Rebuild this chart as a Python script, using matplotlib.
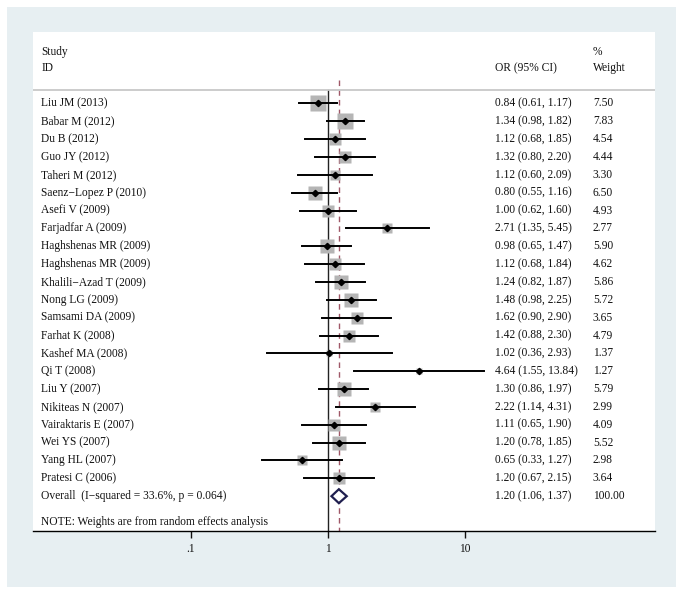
import matplotlib
matplotlib.use('Agg')
import matplotlib.pyplot as plt
from matplotlib.patches import Rectangle, Polygon
import numpy as np

plt.rcParams['font.family'] = ['Liberation Serif', 'DejaVu Serif']

# study data
studies = ['Liu JM (2013)', 'Babar M (2012)', 'Du B (2012)', 'Guo JY (2012)',
           'Taheri M (2012)', 'Saenz\u2212Lopez P (2010)', 'Asefi V (2009)',
           'Farjadfar A (2009)', 'Haghshenas MR (2009)', 'Haghshenas MR (2009)',
           'Khalili\u2212Azad T (2009)', 'Nong LG (2009)', 'Samsami DA (2009)',
           'Farhat K (2008)', 'Kashef MA (2008)', 'Qi T (2008)', 'Liu Y (2007)',
           'Nikiteas N (2007)', 'Vairaktaris E (2007)', 'Wei YS (2007)',
           'Yang HL (2007)', 'Pratesi C (2006)']
odds = [0.84, 1.34, 1.12, 1.32, 1.12, 0.80, 1.00, 2.71, 0.98, 1.12, 1.24,
        1.48, 1.62, 1.42, 1.02, 4.64, 1.30, 2.22, 1.11, 1.20, 0.65, 1.20]
ci_lo = [0.61, 0.98, 0.68, 0.80, 0.60, 0.55, 0.62, 1.35, 0.65, 0.68, 0.82,
         0.98, 0.90, 0.88, 0.36, 1.55, 0.86, 1.14, 0.65, 0.78, 0.33, 0.67]
ci_hi = [1.17, 1.82, 1.85, 2.20, 2.09, 1.16, 1.60, 5.45, 1.47, 1.84, 1.87,
         2.25, 2.90, 2.30, 2.93, 13.84, 1.97, 4.31, 1.90, 1.85, 1.27, 2.15]
weights = [7.50, 7.83, 4.54, 4.44, 3.30, 6.50, 4.93, 2.77, 5.90, 4.62, 5.86,
           5.72, 3.65, 4.79, 1.37, 1.27, 5.79, 2.99, 4.09, 5.52, 2.98, 3.64]

overall_label = 'Overall  (I\u2212squared = 33.6%, p = 0.064)'
overall = 1.20
overall_lo = 1.06
overall_hi = 1.37
overall_w = 100.00

xticks = [0.1, 1, 10]
xticklabels = ['.1', '1', '10']

W, H = 683, 594
fig = plt.figure(figsize=(W / 100, H / 100), dpi=100)

# light grey-blue outer panel
fig.add_artist(Rectangle((7 / W, 7 / H), 669 / W, 580 / H, transform=fig.transFigure,
                         facecolor='#e7eff2', edgecolor='none', zorder=-1))

ax = fig.add_axes([33 / W, (H - 531) / H, 622 / W, 499 / H])
ax.set_facecolor('white')
ax.set_xscale('log')
ax.set_xlim(10 ** ((33 - 328) / 137), 10 ** ((655 - 328) / 137))
ax.set_ylim(24.95, -3.0)

fs = 8.3
tc = '#111111'
tx = ax.get_yaxis_transform()
x_lab, x_or, x_w = 0.0135, 0.743, 0.900

rows = np.arange(1, len(studies) + 1)

# reference lines
ax.plot([1, 1], [0.26, 24.95], color='#222222', lw=1.0, zorder=2)
ax.plot([overall, overall], [-0.3, 24.95], color='#a05868', lw=1.0,
        ls=(0, (4, 3)), zorder=2)

for r, s, o, lo, hi, w in zip(rows, studies, odds, ci_lo, ci_hi, weights):
    side = 5.8 * np.sqrt(w) * 0.72
    ax.plot(o, r, marker='s', ms=side, mfc='#b5b5b5', mec='none', zorder=3)
    ax.plot([lo, hi], [r, r], color='black', lw=1.4, zorder=4)
    ax.plot(o, r, marker='D', ms=3.2, color='black', zorder=5)
    ax.text(x_lab, r, s, transform=tx, fontsize=fs, va='center', color=tc)
    ax.text(x_or, r, f'{o:.2f} ({lo:.2f}, {hi:.2f})', transform=tx,
            fontsize=fs, va='center', color=tc)
    ax.text(x_w, r, f'{w:.2f}', transform=tx, fontsize=fs, va='center', color=tc)

# overall diamond
r_ov = len(studies) + 1
h = 0.39
ax.add_patch(Polygon([(overall_lo, r_ov), (overall, r_ov - h), (overall_hi, r_ov),
                      (overall, r_ov + h)], closed=True, facecolor='white',
                     edgecolor='#1f1f4f', lw=1.6, zorder=5))
ax.text(x_lab, r_ov, overall_label, transform=tx, fontsize=fs, va='center', color=tc)
ax.text(x_or, r_ov, f'{overall:.2f} ({overall_lo:.2f}, {overall_hi:.2f})',
        transform=tx, fontsize=fs, va='center', color=tc)
ax.text(x_w, r_ov, f'{overall_w:.2f}', transform=tx, fontsize=fs, va='center', color=tc)

# headers
ax.text(x_lab, -1.87, 'Study', transform=tx, fontsize=fs, va='center', color=tc)
ax.text(x_lab, -0.98, 'ID', transform=tx, fontsize=fs, va='center', color=tc)
ax.text(x_or, -0.98, 'OR (95% CI)', transform=tx, fontsize=fs, va='center', color=tc)
ax.text(x_w, -1.87, '%', transform=tx, fontsize=fs, va='center', color=tc)
ax.text(x_w, -0.98, 'Weight', transform=tx, fontsize=fs, va='center', color=tc)
ax.plot([0, 1], [0.26, 0.26], transform=tx, color='#c8c8c8', lw=1.3, zorder=2)

ax.text(x_lab, 24.44, 'NOTE: Weights are from random effects analysis',
        transform=tx, fontsize=fs, va='center', color=tc)

for sp in ['top', 'right', 'left']:
    ax.spines[sp].set_visible(False)
ax.spines['bottom'].set_color('black')
ax.spines['bottom'].set_linewidth(1.0)
ax.set_yticks([])
ax.set_xticks(xticks)
ax.set_xticklabels(xticklabels)
ax.xaxis.set_minor_locator(matplotlib.ticker.NullLocator())
ax.tick_params(axis='x', length=5, width=1.0, pad=4, labelsize=fs, colors=tc)

fig.savefig('out.png', dpi=100, facecolor='white')
